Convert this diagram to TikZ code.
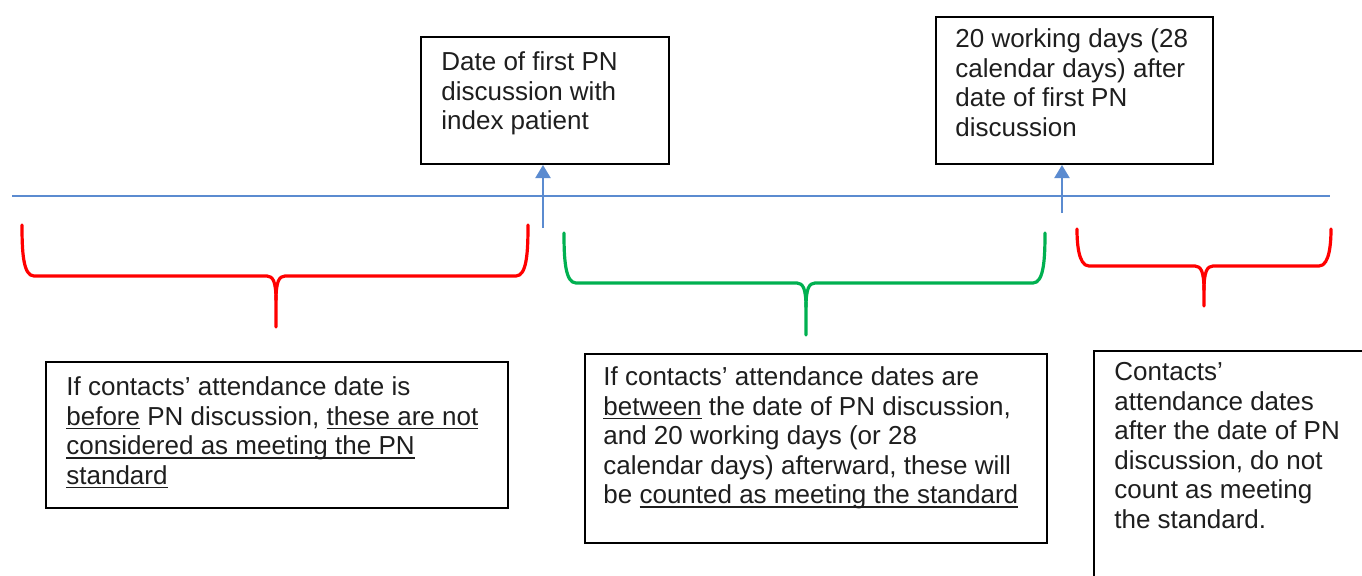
\documentclass[tikz,border=0pt]{standalone}
\usepackage{fontspec}
\setmainfont{Liberation Sans}
\usetikzlibrary{arrows.meta}
\definecolor{tlblue}{RGB}{91,139,208}
\definecolor{brred}{RGB}{255,0,0}
\definecolor{brgreen}{RGB}{0,176,80}
\definecolor{txt}{RGB}{30,30,30}
\newcommand{\myul}[1]{\setbox0\hbox{#1}\rlap{\rule[-2pt]{\wd0}{0.7pt}}\box0\relax}
\newcommand{\mybrace}[7]{%
  \draw[#1] (#2,#4) .. controls (#2,#5-25) and (#2+1,#5) .. (#2+12,#5) -- (#6-9,#5) .. controls (#6-3,#5) and (#6,#5+6) .. (#6,#5+24) -- (#6,#7);
  \draw[#1] (#6,#5+24) .. controls (#6,#5+6) and (#6+3,#5) .. (#6+9,#5) -- (#3-12,#5) .. controls (#3-1,#5) and (#3,#5-25) .. (#3,#4);}
\tikzset{
  boxst/.style={draw=black, line width=1pt, anchor=north west, inner sep=0pt},
  txtst/.style={anchor=north west, inner sep=0pt, align=left, text=txt, font={\fontsize{13}{14.8}\selectfont}},
  arr/.style={draw=tlblue, line width=1pt, -{Triangle[width=7.5pt,length=6.5pt]}},
  tline/.style={draw=tlblue, line width=1pt},
  brst/.style={line width=1.6pt, line cap=round, line join=round}
}
\begin{document}
\begin{tikzpicture}[x=0.5pt,y=-0.5pt]
\useasboundingbox (0,0) rectangle (1362,575);
\clip (0,0) rectangle (1362,575);
% top boxes
\node[boxst, minimum width=124pt, minimum height=63.5pt] (b1) at (420,36) {};
\node[txtst] (t1) at (441,50) {\rule{0pt}{10pt}Date of first PN\\discussion with\\index patient};
\node[boxst, minimum width=138.5pt, minimum height=73.5pt] (b2) at (935,16) {};
\node[txtst] (t2) at (955,27) {\rule{0pt}{10pt}20 working days (28\\calendar days) after\\date of first PN\\discussion};
% timeline
\coordinate (tl0) at (12,196);
\coordinate (tl1) at (1330,196);
\draw[tline] (tl0) -- (tl1);
% arrows
\coordinate (a1s) at (543,228);
\coordinate (a2s) at (1062,213);
\draw[arr] (a1s) -- (a1s |- b1.south);
\draw[arr] (a2s) -- (a2s |- b2.south);
% braces
\mybrace{brst, draw=brred}{22}{528}{225}{276}{276}{327}
\mybrace{brst, draw=brgreen}{564}{1045}{233}{283}{806}{335}
\mybrace{brst, draw=brred}{1077}{1331}{229}{266}{1204}{306}
% bottom boxes
\node[boxst, minimum width=231pt, minimum height=73pt] (bA) at (45,361) {};
\node[txtst] (tA) at (66,375) {\rule{0pt}{10pt}If contacts’ attendance date is\\\myul{before} PN discussion, \myul{these are not}\\\myul{considered as meeting the PN}\\\myul{standard}};
\node[boxst, minimum width=231pt, minimum height=94.5pt] (bB) at (584,353) {};
\node[txtst] (tB) at (603,365) {\rule{0pt}{10pt}If contacts’ attendance dates are\\\myul{between} the date of PN discussion,\\and 20 working days (or 28\\calendar days) afterward, these will\\be \myul{counted as meeting the standard}};
\node[boxst, minimum width=150pt, minimum height=130pt] (bC) at (1093,350) {};
\node[txtst] (tC) at (1114,360) {\rule{0pt}{10pt}Contacts’\\attendance dates\\after the date of PN\\discussion, do not\\count as meeting\\the standard.};
\end{tikzpicture}
\end{document}
